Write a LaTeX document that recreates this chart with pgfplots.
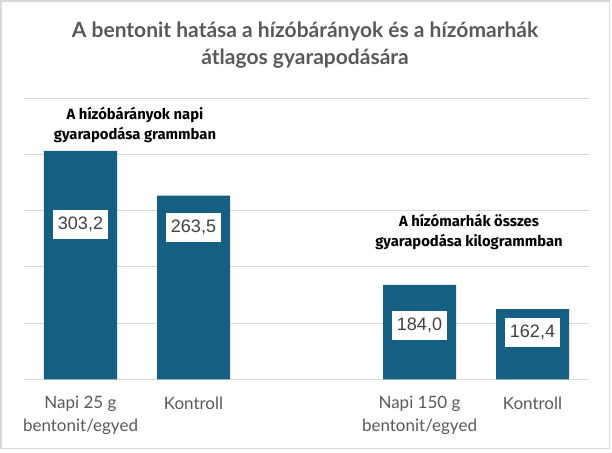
\documentclass[border=0pt]{standalone}
\usepackage{fontspec}
\setmainfont{Lato}
\newfontfamily\annfont{Fira Sans}
\newfontfamily\lblfont{Liberation Sans}
\usepackage{pgfplots}
\pgfplotsset{compat=1.18}
\definecolor{barblue}{HTML}{156082}
\definecolor{txtgrey}{HTML}{595959}
\definecolor{gridgrey}{HTML}{D9D9D9}
\definecolor{lblgrey}{HTML}{404040}
\begin{document}
\begin{tikzpicture}[x=1pt,y=1pt]
\useasboundingbox (0,0) rectangle (612,452);
\draw[gridgrey, line width=1.5pt] (1,3.5) rectangle (609.5,451);
\node[font=\fontsize{21}{27}\selectfont\bfseries, text=txtgrey, anchor=base, inner sep=0] at (305,414) {A bentonit hatása a hízóbárányok és a hízómarhák};
\node[font=\fontsize{21}{27}\selectfont\bfseries, text=txtgrey, anchor=base, inner sep=0] at (305,387) {átlagos gyarapodására};
\begin{axis}[
  at={(24pt,72.7pt)}, anchor=south west,
  width=565pt, height=281pt, scale only axis,
  xmin=-0.5, xmax=4.5, ymin=100, ymax=350,
  ytick={100,150,200,250,300,350}, yticklabels={},
  ymajorgrids, grid style={gridgrey, line width=1pt},
  axis line style={draw=none},
  major tick length=0pt,
  xtick={0,1,3,4},
  xticklabels={{Napi 25 g\\bentonit/egyed},{Kontroll},{Napi 150 g\\bentonit/egyed},{Kontroll}},
  xticklabel style={align=center, font=\fontsize{17}{22.5}\selectfont, text=txtgrey, anchor=north, inner sep=0pt, yshift=-17pt},
  clip=false,
]
\addplot[ybar, bar width=73pt, fill=barblue, draw=none] coordinates {(0,303.2) (1,263.5) (3,184.0) (4,162.4)};
\begin{scope}[every node/.style={fill=white, text=lblgrey, font=\lblfont\fontsize{18}{20}\selectfont, minimum width=55pt, minimum height=29pt, inner sep=0pt}]
\node at (axis cs:0,237.7) {303,2};
\node at (axis cs:1,235.0) {263,5};
\node at (axis cs:3,148.3) {184,0};
\node at (axis cs:4,141.6) {162,4};
\end{scope}
\end{axis}
\begin{scope}[every node/.style={font=\annfont\bfseries\fontsize{14.8}{20}\selectfont, anchor=base, inner sep=0}]
\node at (135,332) {A hízóbárányok napi};
\node at (135,312) {gyarapodása grammban};
\node at (469,225) {A hízómarhák összes};
\node at (469,205) {gyarapodása kilogrammban};
\end{scope}
\end{tikzpicture}
\end{document}
